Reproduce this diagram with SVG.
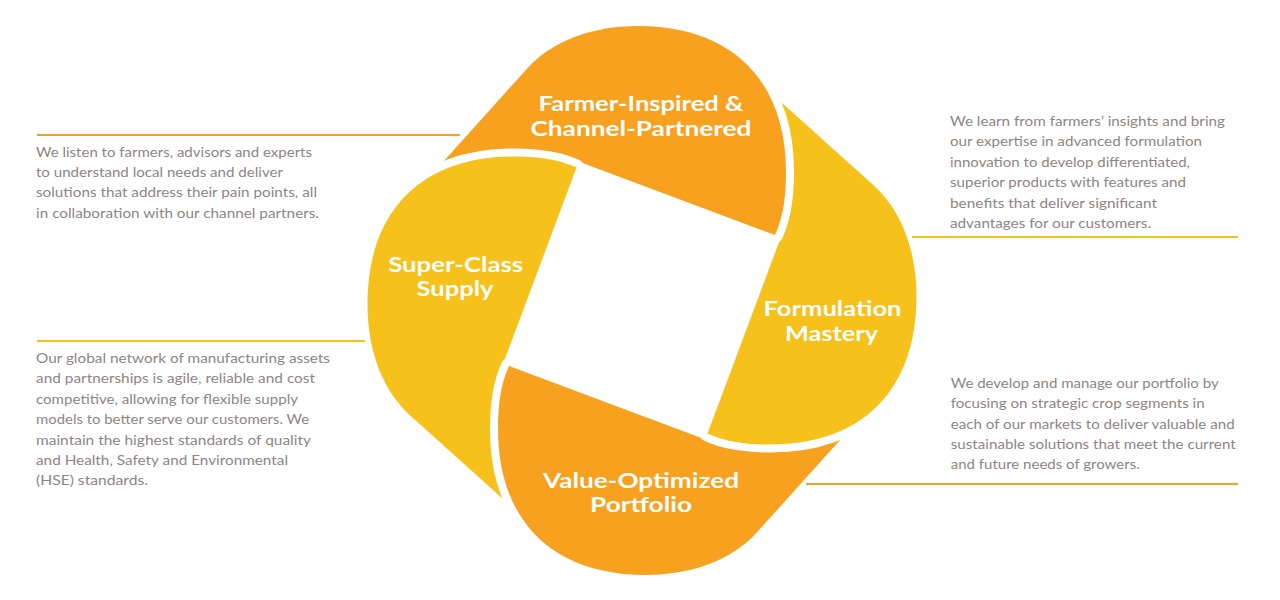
<svg xmlns="http://www.w3.org/2000/svg" xmlns:xlink="http://www.w3.org/1999/xlink" width="1280" height="600" viewBox="0 0 1280 600">
<style>
.title{font-family:Lato,"Noto Sans","Liberation Sans",sans-serif;font-weight:700;font-size:21px;fill:#ffffff;text-anchor:middle}
.body{font-family:Lato,"Noto Sans","Liberation Sans",sans-serif;font-size:14px;fill:#8e8585}
.orange{fill:#F7A11F}
.yellow{fill:#F5C11A}
.rule{stroke-width:2;fill:none}
</style>
<defs>
<path id="raw" d="M421 186.5 L527 68.7 C551.6 41.4 591.6 26 638 26 C731.2 26 786 80 786 172 C786 193.3 784 215.7 775 235 L567.8 157.5 L530 240 Z"/>
<mask id="cut" maskUnits="userSpaceOnUse" x="-300" y="-400" width="1900" height="1400">
<rect x="-300" y="-400" width="1900" height="1400" fill="#fff"/>
<use xlink:href="#raw" transform="rotate(-90 642 300.5)" fill="#000" stroke="#000" stroke-width="16" stroke-linejoin="round"/>
</mask>
</defs>
<g id="connectors">
<line class="rule" x1="37" y1="135" x2="460" y2="135" stroke="#F7A11F"/>
<line class="rule" x1="37" y1="341" x2="365" y2="341" stroke="#F5C11A"/>
<line class="rule" x1="912" y1="237" x2="1238" y2="237" stroke="#F5C11A"/>
<line class="rule" x1="806" y1="484" x2="1238" y2="484" stroke="#F7A11F"/>
</g>
<g id="node-farmer">
<use xlink:href="#raw" class="orange" mask="url(#cut)"/>
<text class="title"><tspan x="641" y="111.3" textLength="205" lengthAdjust="spacingAndGlyphs">Farmer-Inspired &amp;</tspan><tspan x="641" y="135.8" textLength="221" lengthAdjust="spacingAndGlyphs">Channel-Partnered</tspan></text>
</g>
<g id="node-formulation">
<g transform="rotate(90 642 300.5)"><use xlink:href="#raw" class="yellow" mask="url(#cut)"/></g>
<text class="title"><tspan x="832.5" y="316.3" textLength="138" lengthAdjust="spacingAndGlyphs">Formulation</tspan><tspan x="831.5" y="340.8" textLength="93" lengthAdjust="spacingAndGlyphs">Mastery</tspan></text>
</g>
<g id="node-value">
<g transform="rotate(180 642 300.5)"><use xlink:href="#raw" class="orange" mask="url(#cut)"/></g>
<text class="title"><tspan x="641" y="487.7" textLength="196" lengthAdjust="spacingAndGlyphs">Value-Optimized</tspan><tspan x="641" y="512.2" textLength="102" lengthAdjust="spacingAndGlyphs">Portfolio</tspan></text>
</g>
<g id="node-supply">
<g transform="rotate(-90 642 300.5)"><use xlink:href="#raw" class="yellow" mask="url(#cut)"/></g>
<text class="title"><tspan x="455.7" y="271.6" textLength="135" lengthAdjust="spacingAndGlyphs">Super-Class</tspan><tspan x="455" y="296.1" textLength="77" lengthAdjust="spacingAndGlyphs">Supply</tspan></text>
</g>
<g id="desc-farmer">
<text class="body" x="36" y="157" textLength="276" lengthAdjust="spacingAndGlyphs">We listen to farmers, advisors and experts</text>
<text class="body" x="36" y="177.2" textLength="247" lengthAdjust="spacingAndGlyphs">to understand local needs and deliver</text>
<text class="body" x="36" y="197.4" textLength="281" lengthAdjust="spacingAndGlyphs">solutions that address their pain points, all</text>
<text class="body" x="36" y="217.6" textLength="283" lengthAdjust="spacingAndGlyphs">in collaboration with our channel partners.</text>
</g>
<g id="desc-supply">
<text class="body" x="36" y="363" textLength="294" lengthAdjust="spacingAndGlyphs">Our global network of manufacturing assets</text>
<text class="body" x="36" y="383.4" textLength="279" lengthAdjust="spacingAndGlyphs">and partnerships is agile, reliable and cost</text>
<text class="body" x="36" y="403.8" textLength="262" lengthAdjust="spacingAndGlyphs">competitive, allowing for flexible supply</text>
<text class="body" x="36" y="424.2" textLength="273" lengthAdjust="spacingAndGlyphs">models to better serve our customers. We</text>
<text class="body" x="36" y="444.6" textLength="275" lengthAdjust="spacingAndGlyphs">maintain the highest standards of quality</text>
<text class="body" x="36" y="465" textLength="252" lengthAdjust="spacingAndGlyphs">and Health, Safety and Environmental</text>
<text class="body" x="36" y="485.4" textLength="112" lengthAdjust="spacingAndGlyphs">(HSE) standards.</text>
</g>
<g id="desc-formulation">
<text class="body" x="950" y="125.5" textLength="275" lengthAdjust="spacingAndGlyphs">We learn from farmers’ insights and bring</text>
<text class="body" x="950" y="146" textLength="252" lengthAdjust="spacingAndGlyphs">our expertise in advanced formulation</text>
<text class="body" x="950" y="166.5" textLength="240" lengthAdjust="spacingAndGlyphs">innovation to develop differentiated,</text>
<text class="body" x="950" y="187" textLength="236" lengthAdjust="spacingAndGlyphs">superior products with features and</text>
<text class="body" x="950" y="207.5" textLength="207" lengthAdjust="spacingAndGlyphs">benefits that deliver significant</text>
<text class="body" x="950" y="228" textLength="201" lengthAdjust="spacingAndGlyphs">advantages for our customers.</text>
</g>
<g id="desc-value">
<text class="body" x="950.7" y="388" textLength="268" lengthAdjust="spacingAndGlyphs">We develop and manage our portfolio by</text>
<text class="body" x="950.7" y="408.25" textLength="254" lengthAdjust="spacingAndGlyphs">focusing on strategic crop segments in</text>
<text class="body" x="950.7" y="428.5" textLength="284" lengthAdjust="spacingAndGlyphs">each of our markets to deliver valuable and</text>
<text class="body" x="950.7" y="448.75" textLength="285" lengthAdjust="spacingAndGlyphs">sustainable solutions that meet the current</text>
<text class="body" x="950.7" y="469" textLength="189" lengthAdjust="spacingAndGlyphs">and future needs of growers.</text>
</g>
</svg>
